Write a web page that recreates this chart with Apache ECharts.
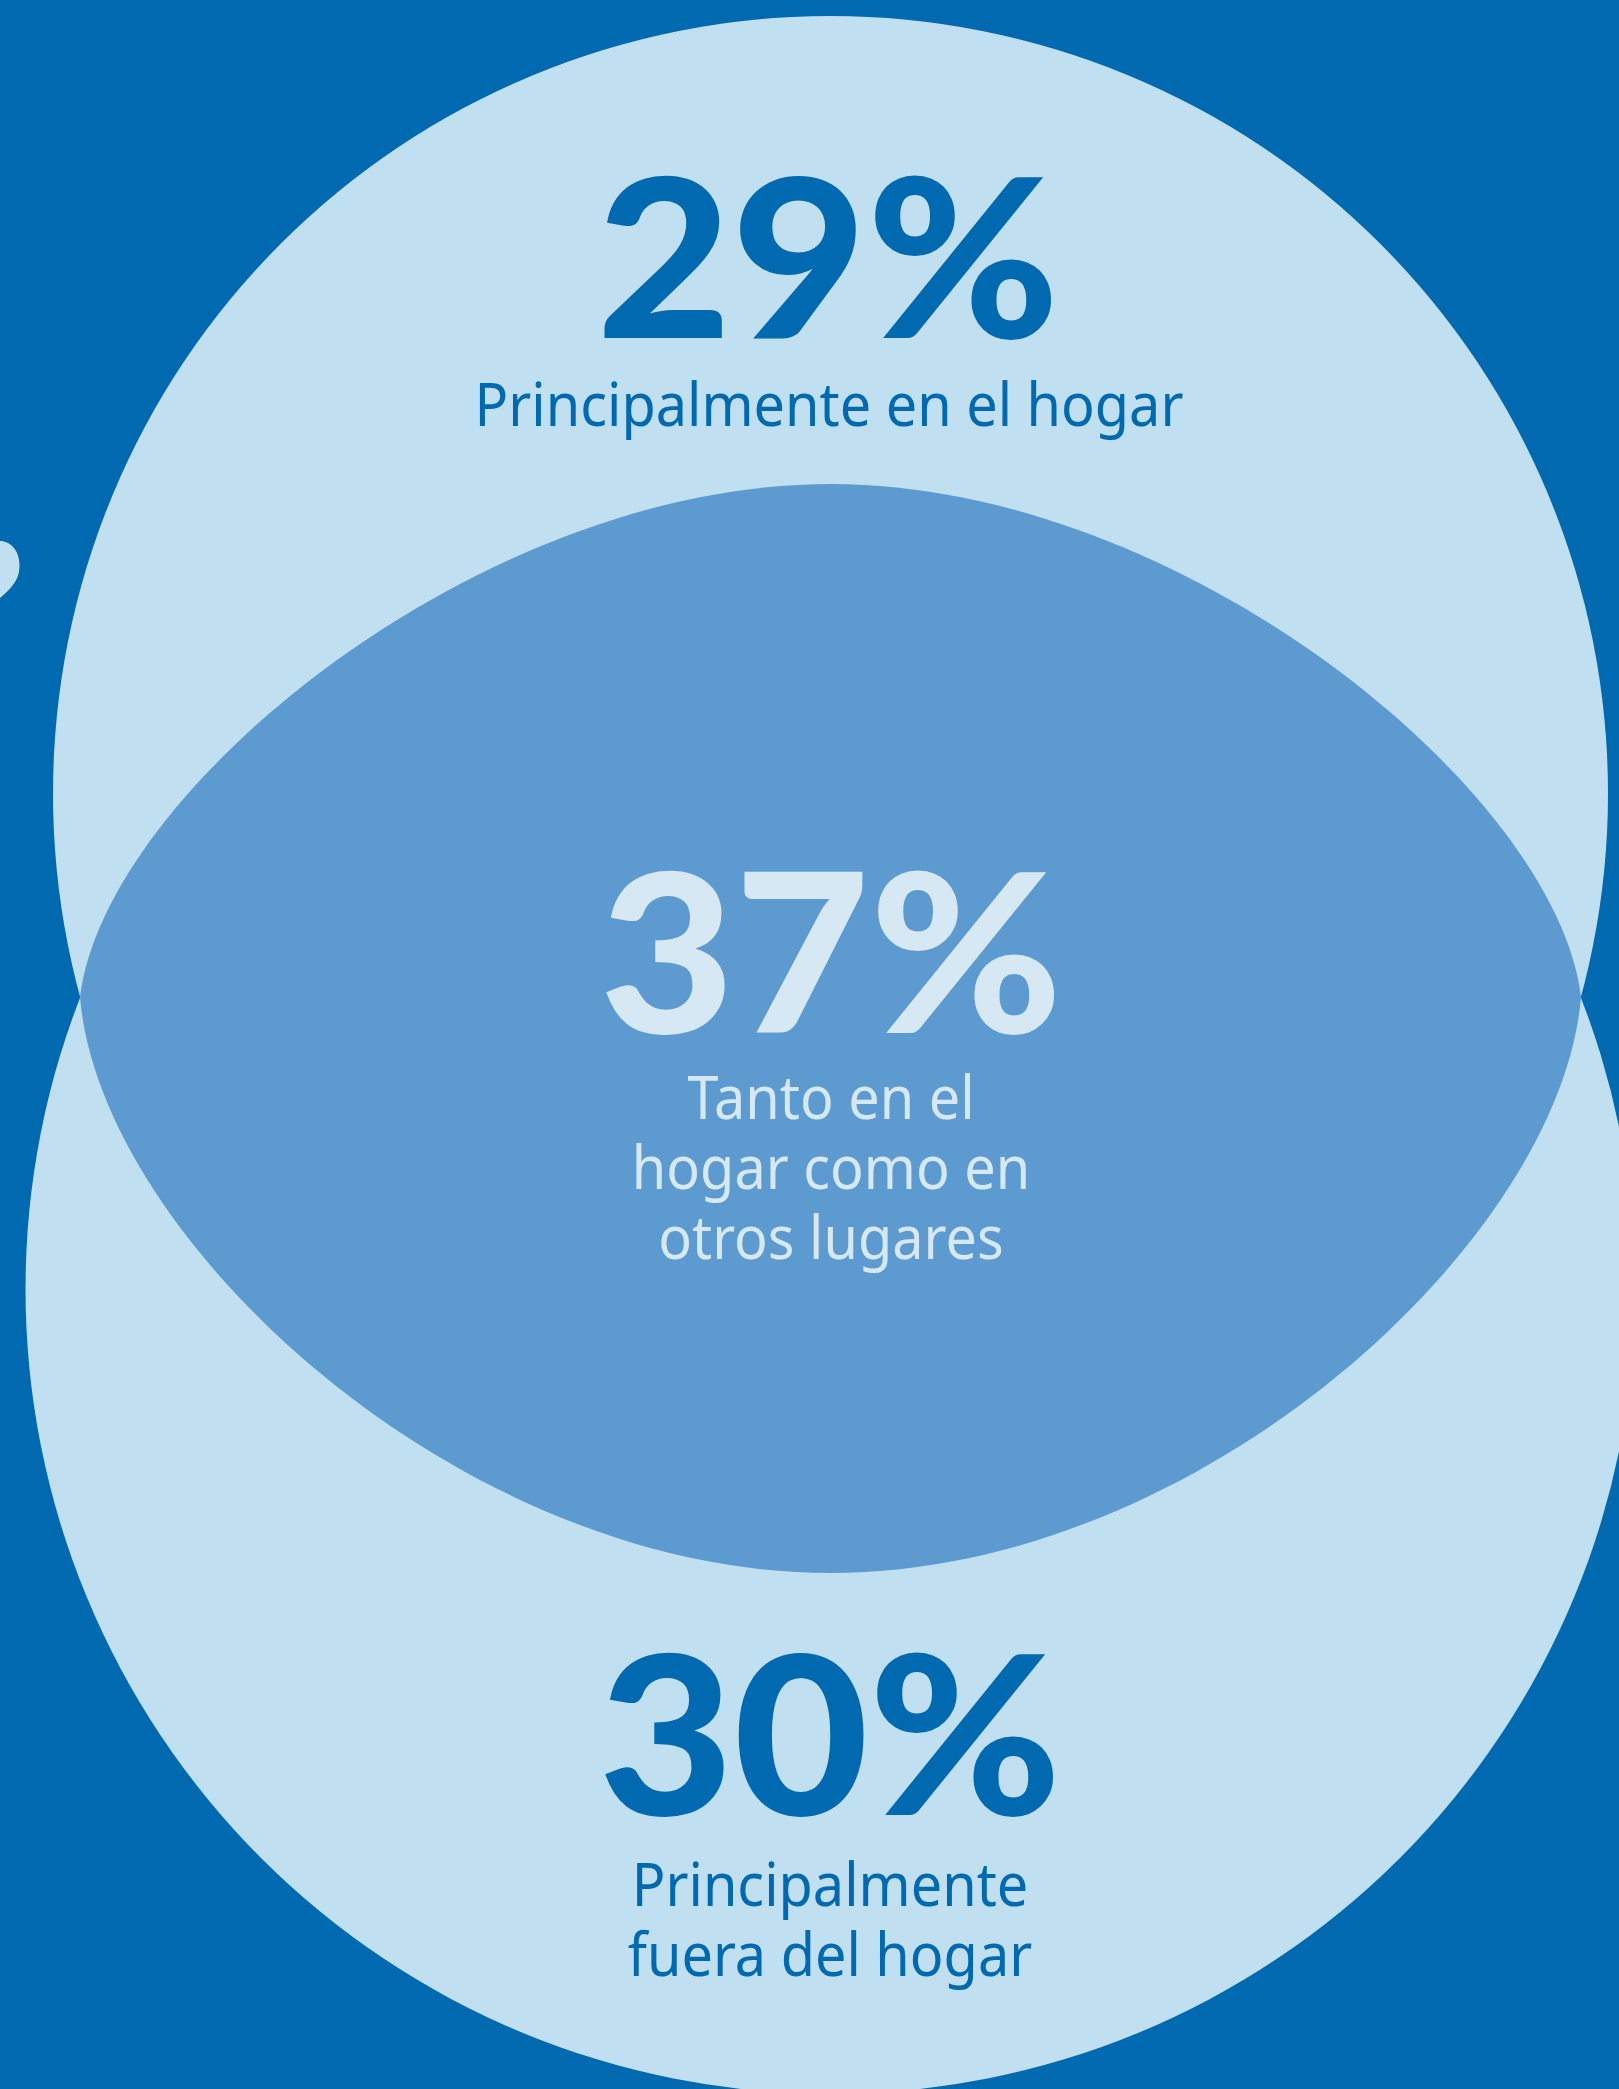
<!DOCTYPE html>
<html><head><meta charset="utf-8">
<style>html,body{margin:0;padding:0;background:#0069B0;}#chart{width:1619px;height:2089px;}</style>
<script src="https://cdn.jsdelivr.net/npm/echarts@6/dist/echarts.min.js"></script>
</head><body><div id="chart"></div>
<script>
// ---- data ----
const categories = ['Principalmente en el hogar', 'Tanto en el\nhogar como en\notros lugares', 'Principalmente\nfuera del hogar'];
const shares = [29, 37, 30];
const regionKeys = ['top', 'middle', 'bottom'];

// ---- layout (pixel space of the 1619x2089 canvas) ----
const W = 1619, H = 2089;
const BG = '#0069B0', LIGHT = '#C0DFF0', MID = '#5D9ACF', DARK_TXT = '#0069B0', LIGHT_TXT = '#D5E8F4';
const layout = {
  top:    { circle: { cx: 830.5, cy: 793.5, r: 777.5 }, num: [828, 266.5], lab: [829, 409], numColor: DARK_TXT, labColor: DARK_TXT },
  middle: { num: [831, 961.5], lab: [831, 1172], numColor: LIGHT_TXT, labColor: LIGHT_TXT },
  bottom: { circle: { cx: 830.5, cy: 1289, r: 805 }, num: [830, 1743.5], lab: [830, 1924], numColor: DARK_TXT, labColor: DARK_TXT }
};
// lens (overlap) outline: tips at circle intersections, bezier sides (left half; mirrored about cx)
const lens = { cx: 830.5, tip: [80, 997], top: [830.5, 484], bot: [830.5, 1573],
  upC1: [105, 790], upC2: [480, 484], loC1: [100, 1240], loC2: [460, 1573] };
// small decorative blob cut by the left edge
const blob = [['M', [0, 541]], ['C', [10, 541], [19.5, 550], [19.5, 566]], ['C', [19.5, 578], [14, 586], [0, 598]]];

const chart = echarts.init(document.getElementById('chart'), null, { renderer: 'canvas' });

function toPath(segs, api) {
  let d = '';
  segs.forEach(seg => {
    d += seg[0];
    seg.slice(1).forEach(p => { const q = api.coord(p); d += ' ' + q[0].toFixed(2) + ' ' + q[1].toFixed(2); });
    d += ' ';
  });
  return d + 'Z';
}

function lensSegs() {
  const m = p => [2 * lens.cx - p[0], p[1]];
  return [
    ['M', lens.tip],
    ['C', lens.upC1, lens.upC2, lens.top],
    ['C', m(lens.upC2), m(lens.upC1), m(lens.tip)],
    ['C', m(lens.loC1), m(lens.loC2), lens.bot],
    ['C', lens.loC2, lens.loC1, lens.tip]
  ];
}

function renderItem(params, api) {
  const i = params.dataIndex;
  const key = regionKeys[i];
  const L = layout[key];
  const children = [];
  if (L.circle) {
    const cc = api.coord([L.circle.cx, L.circle.cy]);
    const rr = api.size([L.circle.r, 0])[0];
    children.push({ type: 'circle', shape: { cx: cc[0], cy: cc[1], r: rr }, style: { fill: LIGHT }, z2: 1 });
  } else {
    children.push({ type: 'path', shape: { pathData: toPath(lensSegs(), api) }, style: { fill: MID }, z2: 5 });
  }
  if (i === 0) {
    children.push({ type: 'path', shape: { pathData: toPath(blob, api) }, style: { fill: LIGHT }, z2: 1 });
  }
  const n = api.coord(L.num), lb = api.coord(L.lab);
  children.push({
    type: 'text', z2: 20, x: n[0], y: n[1], scaleX: 1.05,
    style: { text: api.value(1) + '%', x: 0, y: 0, align: 'center', verticalAlign: 'middle',
      fontFamily: 'Lato', fontWeight: 900, fontSize: 222, fill: L.numColor }
  });
  children.push({
    type: 'text', z2: 20, x: lb[0], y: lb[1], scaleX: 0.93,
    style: { text: categories[i], x: 0, y: 0, align: 'center', verticalAlign: 'middle',
      fontFamily: 'Noto Sans', fontSize: 60, lineHeight: 70, fill: L.labColor }
  });
  return { type: 'group', children };
}

chart.setOption({
  backgroundColor: BG,
  animation: false,
  grid: { left: 0, right: 0, top: 0, bottom: 0 },
  xAxis: { type: 'value', min: 0, max: W, show: false },
  yAxis: { type: 'value', min: 0, max: H, inverse: true, show: false },
  series: [{
    type: 'custom',
    renderItem,
    clip: false,
    data: shares.map((v, i) => [i, v]),
    encode: { x: 0, y: 1 }
  }]
});
</script></body></html>
